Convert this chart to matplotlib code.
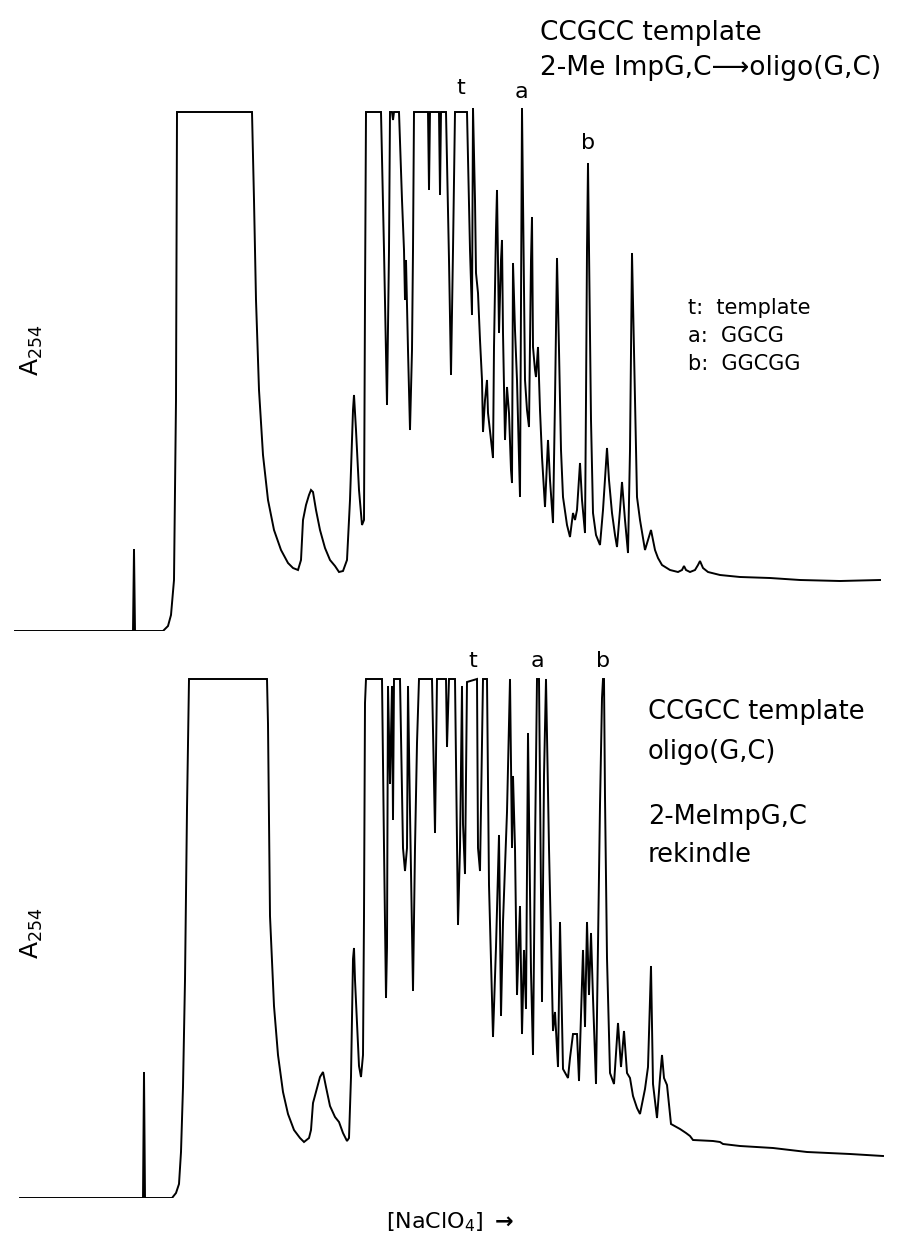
import numpy as np
import matplotlib
matplotlib.use('Agg')
import matplotlib.pyplot as plt

plt.rcParams['font.family'] = ['DejaVu Sans']

# trace: elution position vs A254 (arbitrary units, 0 = baseline)
top_x = [15, 133, 134, 135, 163, 168, 171, 174, 176, 177, 252, 254, 256, 259, 263, 268, 274, 281, 288, 293,
         298, 301, 303, 306, 309, 311, 313, 316, 320, 325, 330, 335, 339, 343, 347, 350, 353, 354, 356, 359,
         362, 364, 365, 366, 381, 384, 387, 389, 390, 392, 393, 394, 399, 402, 404, 405, 406, 408, 410, 412,
         413, 414, 428, 429, 430, 439, 440, 441, 446, 449, 451, 453, 455, 467, 470, 472, 473, 475, 476, 478,
         480, 482, 483, 485, 487, 488, 491, 493, 494, 496, 497, 499, 501, 502, 503, 505, 507, 509, 511, 512,
         513, 515, 517, 519, 520, 521, 522, 523, 525, 527, 529, 531, 532, 533, 535, 536, 538, 540, 542, 545,
         548, 550, 553, 555, 557, 559, 561, 563, 567, 570, 573, 575, 577, 580, 582, 585, 586, 587, 588, 589,
         591, 593, 596, 600, 603, 607, 609, 612, 615, 617, 620, 622, 625, 628, 630, 632, 634, 637, 640, 645,
         648, 651, 653, 655, 658, 662, 670, 678, 682, 684, 686, 690, 695, 698, 700, 703, 708, 720, 740, 770,
         800, 840, 880]
top_a = [0, 0, 82, 0, 0, 5, 16, 51, 231, 519, 519, 431, 331, 241, 176, 131, 101, 81, 68, 63,
         61, 71, 111, 126, 136, 141, 139, 121, 101, 83, 71, 65, 59, 60, 71, 131, 221, 236, 201, 141,
         106, 111, 331, 519, 519, 381, 226, 381, 519, 519, 511, 519, 519, 431, 381, 331, 371, 281, 201, 281,
         381, 519, 519, 441, 519, 519, 436, 519, 519, 371, 256, 381, 519, 519, 381, 316, 523, 431, 358, 338,
         291, 251, 199, 231, 251, 218, 191, 173, 284, 401, 441, 298, 371, 391, 298, 191, 244, 218, 161, 148,
         368, 301, 251, 171, 134, 331, 523, 431, 251, 221, 204, 371, 414, 284, 261, 254, 284, 221, 174, 124,
         191, 151, 108, 231, 373, 281, 181, 134, 106, 94, 118, 111, 121, 168, 131, 98, 231, 381, 468, 381,
         211, 118, 96, 86, 121, 183, 151, 118, 96, 84, 121, 149, 111, 78, 181, 378, 281, 134, 111, 81,
         91, 101, 91, 81, 73, 66, 61, 59, 61, 65, 61, 59, 61, 66, 70, 63, 59, 56, 54, 53,
         51, 50, 51]

bot_x = [20, 143, 144, 145, 172, 176, 179, 181, 183, 185, 187, 189, 267, 268, 270, 274, 278, 283, 288, 294,
         300, 304, 309, 311, 313, 316, 320, 323, 326, 330, 335, 339, 343, 347, 349, 351, 353, 354, 355, 357,
         359, 361, 363, 364, 365, 366, 382, 384, 386, 387, 388, 390, 392, 393, 394, 400, 403, 405, 407, 408,
         410, 413, 415, 417, 419, 432, 435, 437, 446, 447, 449, 455, 457, 458, 460, 462, 463, 465, 467, 477,
         478, 480, 482, 483, 487, 489, 493, 496, 499, 501, 503, 507, 510, 512, 513, 515, 517, 520, 522, 524,
         526, 528, 531, 533, 535, 537, 539, 542, 544, 546, 549, 553, 555, 558, 560, 563, 568, 570, 573, 577,
         579, 583, 585, 587, 589, 591, 593, 596, 598, 600, 602, 603, 604, 605, 607, 610, 614, 618, 621, 624,
         627, 630, 633, 637, 640, 645, 648, 651, 653, 657, 660, 662, 664, 667, 671, 680, 686, 690, 693, 713,
         720, 723, 740, 773, 807, 850, 883]
bot_a = [0, 0, 126, 0, 0, 5, 14, 46, 111, 218, 389, 519, 519, 474, 282, 192, 143, 106, 84, 68,
         60, 56, 60, 68, 95, 106, 121, 126, 111, 92, 81, 76, 65, 57, 60, 121, 239, 250, 218, 175,
         132, 121, 143, 282, 495, 519, 519, 351, 200, 251, 512, 414, 512, 378, 519, 519, 350, 327, 350, 512,
         386, 207, 350, 455, 519, 519, 365, 519, 519, 451, 519, 519, 350, 273, 350, 512, 374, 324, 516, 519,
         350, 327, 457, 519, 519, 313, 161, 251, 363, 182, 276, 386, 519, 350, 422, 350, 203, 292, 164, 248,
         189, 465, 226, 143, 350, 519, 519, 196, 422, 519, 350, 167, 186, 131, 276, 129, 120, 140, 164, 164,
         117, 248, 171, 276, 203, 265, 200, 114, 251, 393, 500, 519, 519, 401, 240, 125, 114, 175, 131, 167,
         125, 120, 102, 90, 84, 109, 131, 232, 114, 80, 120, 143, 120, 113, 74, 69, 65, 62, 58, 57,
         56, 54, 52, 50, 46, 44, 42]

# peak labels
top_peaks = {'t': (461, 543), 'a': (521, 539), 'b': (588, 488)}
bot_peaks = {'t': (473, 537), 'a': (537, 537), 'b': (603, 537)}

W, H = 904, 1244
fig = plt.figure(figsize=(W / 100, H / 100), dpi=100)

# top chromatogram
top_base = 631
ax1 = fig.add_axes([0, (H - top_base) / H, 1, top_base / H])
ax1.set_xlim(0, W)
ax1.set_ylim(0, top_base)
ax1.axis('off')
ax1.plot(top_x, top_a, color='black', lw=1.4, solid_joinstyle='miter')
for k, (x, y) in top_peaks.items():
    ax1.text(x, y, k, fontsize=16, ha='center', va='center')
ax1.text(540, 598, 'CCGCC template', fontsize=19, ha='left', va='center')
ax1.text(540, 563, '2-Me ImpG,C\u27f6oligo(G,C)', fontsize=19, ha='left', va='center')
ax1.text(688, 323, 't:  template', fontsize=15, ha='left', va='center')
ax1.text(688, 295, 'a:  GGCG', fontsize=15, ha='left', va='center')
ax1.text(688, 267, 'b:  GGCGG', fontsize=15, ha='left', va='center')
ax1.text(32, 281, r'A$_{254}$', fontsize=18, rotation=90, ha='center', va='center')

# bottom chromatogram
bot_base = 1198
ax2 = fig.add_axes([0, (H - bot_base) / H, 1, (bot_base - 640) / H])
ax2.set_xlim(0, W)
ax2.set_ylim(0, bot_base - 640)
ax2.axis('off')
ax2.plot(bot_x, bot_a, color='black', lw=1.4, solid_joinstyle='miter')
for k, (x, y) in bot_peaks.items():
    ax2.text(x, y, k, fontsize=16, ha='center', va='center')
ax2.text(648, 486, 'CCGCC template', fontsize=18.5, ha='left', va='center')
ax2.text(648, 446, 'oligo(G,C)', fontsize=18.5, ha='left', va='center')
ax2.text(648, 381, '2-MeImpG,C', fontsize=18.5, ha='left', va='center')
ax2.text(648, 343, 'rekindle', fontsize=18.5, ha='left', va='center')
ax2.text(32, 265, r'A$_{254}$', fontsize=18, rotation=90, ha='center', va='center')
ax2.text(450, -24, r'$\left[\mathrm{NaClO_4}\right]$ $\mathbf{\rightarrow}$', fontsize=16,
         ha='center', va='center', clip_on=False)

fig.savefig('out.png', dpi=100)
